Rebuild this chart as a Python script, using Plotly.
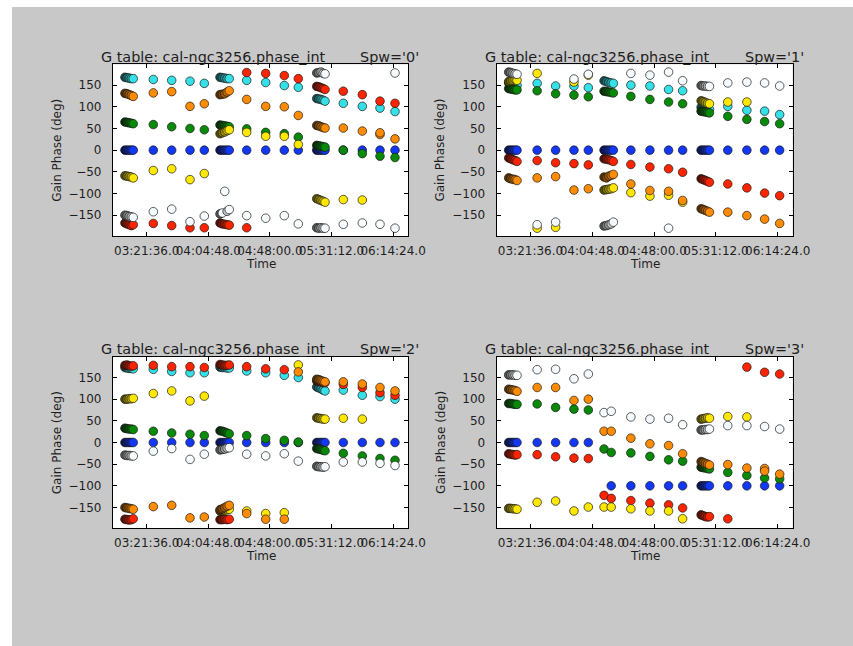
import plotly.graph_objects as go

# ---------------- data ----------------
DAY = "2012-01-01"
# integration times (A cluster, B-E, F cluster, G-J, K cluster, L-O)
TIMES = ["03:06:20", "03:07:50", "03:09:20", "03:10:50", "03:12:10",
         "03:26:14", "03:39:08", "03:51:58", "04:02:00",
         "04:13:00", "04:14:40", "04:16:20", "04:18:00", "04:19:30",
         "04:31:44", "04:45:03", "04:58:06", "05:07:55",
         "05:20:50", "05:22:20", "05:23:50", "05:25:20", "05:26:40",
         "05:39:29", "05:52:49", "06:05:13", "06:15:44"]

XTICK_TIMES = ["03:21:36", "04:04:48", "04:48:00", "05:31:12", "06:14:24"]
XTICK_LABELS = ["03:21:36.0", "04:04:48.0", "04:48:00.0", "05:31:12.0", "06:14:24.0"]
YTICKS = [-150, -100, -50, 0, 50, 100, 150]
X_RANGE = ["02:57:58", "06:24:51"]
Y_RANGE = [-198, 198]

SPW_LABELS = ["0", "1", "2", "3"]
TABLE_NAME = "cal-ngc3256.phase_int"

# spw 0
S0_BLUE = [0, 0, 0, 0, 0, 0, 0, 0, 0, 0, 0, 0, 0, 0, 0, 0, 0, 0, 0, 0, 0, 0, 0, 0, 0, 0, 0]
S0_CYAN = [168, 167, 166, 165, 165, 163, 161, 159, 154, 168, 167, 166, 165, 165, 161, 156, 149, 145,
           119, 118, 117, 115, 113, 108, 101, 97, 89]
S0_GREEN = [65, 64, 63, 62, 61, 59, 54, 50, 47, 58, 57, 56, 55, 54, 49, 41, 38, 30,
            11, 10, 9, 8, 7, 0, -8, -14, -17]
S0_RED = [-168, -170, -172, -174, -172, -169, -174, -179, -179, -168, -170, -171, -172, -173,
          (179, -179), 177, 172, 165, 147, 146, 144, 142, 140, 136, 128, 113, 108]
S0_YELLOW = [-59, -60, -61, -62, -64, -47, -43, -68, -54, 38, 40, 42, 45, 47, 41, 32, 32, 13,
             -112, -114, -116, -118, -120, -114, -115, None, None]
S0_ORANGE = [131, 130, 128, 126, 124, 132, 135, 101, 107, 128, 129, 130, 134, 137, 117, 101, 100, 80,
             57, 56, 54, 52, 51, 51, 44, (36, 40), 26]
S0_WHITE = [-150, -151, -153, -154, -155, -142, -136, -165, -152, -147, -145, -95, -141, -137,
            -151, -157, -151, -170, (-179, 178), (-180, 179), (-179, 180), (-180, 177), (-180, 176),
            -171, -168, -171, (-180, 178)]

# spw 1
S1_BLUE = [0, 0, 0, 0, 0, 0, 0, 0, 0, 0, 0, 0, 0, 0, 0, 0, 0, 0, 0, 0, 0, 0, 0, 0, 0, 0, 0]
S1_CYAN = [155, 153, 151, 150, 149, 154, 148, 148, 144, 160, 158, 156, 155, 154, 150, 148, 140, 137,
           99, 97, 96, 95, 94, 101, 92, 90, 82]
S1_GREEN = [142, 141, 140, 139, 139, 137, 130, 127, 123, 136, 135, 134, 133, 132, 124, 117, 111, 107,
            90, 89, 88, 87, 86, 78, 71, 66, 61]
S1_RED = [-18, -20, -22, -24, -26, -24, -29, -31, -34, -20, -21, -22, -24, -26, -33, -39, -43, -51,
          -66, -68, -70, -72, -74, -78, -87, -99, -105]
S1_YELLOW = [158, 160, 161, 163, 161, (177, -180), -178, 157, 173, -92, -91, -90, -89, -87,
             -98, -106, -104, -120, 114, 112, 110, 108, 107, 111, 111, None, None]
S1_ORANGE = [-64, -66, -67, -68, -70, -64, -61, -92, -89, -62, -64, -60, -58, -56, -78, -93, -95, -116,
             -135, -137, -139, -141, -143, -143, -151, -159, -169]
S1_WHITE = [180, 179, 177, 176, 175, -172, -166, 164, 175, -175, -174, -172, -170, -166,
            177, 173, (180, -180), 160, 149, 148, 148, 147, 147, 155, 157, 155, 148]

# spw 2
S2_BLUE = [0, 0, 0, 0, 0, 0, 0, 0, 0, 0, 0, 0, 0, 0, 0, 0, 0, 0, 0, 0, 0, 0, 0, 0, 0, 0, 0]
S2_CYAN = [173, 172, 171, 171, 170, 169, 164, 161, 161, 174, 173, 173, 172, 172, 165, 161, 155, 150,
           128, 126, 124, 121, 119, 121, 109, 106, 100]
S2_GREEN = [33, 32, 31, 31, 30, 26, 22, 19, 16, 27, 26, 24, 22, 20, 16, 9, 5, 1,
            -14, -15, -16, -18, -19, -25, -31, -37, -41]
S2_RED = [(178, -177), (179, -178), (177, -179), (176, -178), (177, -176), 178, 175, 175, 173,
          (180, -178), (179, -178), (178, -177), (178, -178), (179, -177), 175, 170, 168, None,
          142, 141, 140, 139, 138, 134, 127, 115, 109]
S2_YELLOW = [100, 100, 101, 101, 102, 113, 119, 96, 107, -158, -157, -156, -155, -154,
             -158, -164, -162, 179, 57, 56, 55, 54, 54, 56, 54, None, None]
S2_ORANGE = [-150, -151, -152, -153, -154, -148, -145, -174, -172, -155, -153, -150, -147, -145,
             -164, -177, -177, 163, 146, 145, 143, 141, 140, 140, 135, 127, 119]
S2_WHITE = [-29, -30, -30, -31, -31, -20, -14, -39, -27, -17, -16, -15, -13, -12, -27, -31, -26, -43,
            -55, -56, -56, -57, -56, -45, -45, -48, -53]

# spw 3 (cyan antenna flagged)
S3_BLUE = [0, 0, 0, 0, 0, 0, 0, 0, 0, None, None, None, -100, None, -100, -100, -100, -100,
           -100, -100, -100, -100, -100, -100, -100, -100, -100]
S3_CYAN = []
S3_GREEN = [90, 90, 89, 88, 88, 89, 81, 77, 75, -15, None, None, -23, None, -24, -32, -40, -43,
            -57, -58, -59, -60, -61, -69, -76, -82, -84]
S3_RED = [-26, -27, -28, -29, -28, -28, -33, -36, -37, -122, None, None, -129, None, -134, -140, -144, -151,
          -167, -169, -171, -172, -171, -176, 174, 162, 158]
S3_YELLOW = [-152, -152, -153, -153, -154, -138, -135, -158, -149, -149, None, None, -149, None,
             -153, -158, -158, -176, 54, 55, 56, 57, 56, 60, 59, None, None]
S3_ORANGE = [123, 122, 121, 120, 118, 127, 127, 97, 100, 26, None, None, 26, None, 10, -3, -7, -26,
             -44, -46, -48, -50, -52, -51, -59, (-60, -66), -73]
S3_WHITE = [156, 156, 156, 155, 155, 168, 169, 147, 158, 69, None, None, 72, None, 59, 54, 56, 41,
            29, 29, 30, 30, 31, 39, 39, 37, 31]

PANELS = [
    [S0_BLUE, S0_CYAN, S0_GREEN, S0_RED, S0_YELLOW, S0_ORANGE, S0_WHITE],
    [S1_BLUE, S1_CYAN, S1_GREEN, S1_RED, S1_YELLOW, S1_ORANGE, S1_WHITE],
    [S2_BLUE, S2_CYAN, S2_GREEN, S2_RED, S2_YELLOW, S2_ORANGE, S2_WHITE],
    [S3_BLUE, S3_CYAN, S3_GREEN, S3_RED, S3_YELLOW, S3_ORANGE, S3_WHITE],
]

# ---------------- styling ----------------
ANTENNA_COLORS = [(18, 56, 245), (53, 224, 230), (7, 138, 7), (255, 36, 0),
                  (255, 232, 0), (255, 140, 0), (246, 251, 255)]
# brightness of a marker that is overlapped by the next integration of a dense scan
SHADE = [0.35, 0.5, 0.62, 0.78, 1.0,
         1, 1, 1, 1,
         0.35, 0.5, 0.62, 0.78, 1.0,
         1, 1, 1, 1,
         0.35, 0.5, 0.62, 0.78, 1.0,
         1, 1, 1, 1]


def as_tuple(v):
    if v is None:
        return ()
    return v if isinstance(v, tuple) else (v,)


def shade(rgb, f):
    return "rgb(%d,%d,%d)" % tuple(int(round(c * f)) for c in rgb)


W, H = 853, 646
FONT = "DejaVu Sans"
TXT = "#1e1e1e"
# panel frames: (left, right, top, bottom) in pixels
FRAMES = [(113, 408, 64.3, 236), (496.7, 792.7, 64.3, 236),
          (113, 408, 356.7, 528.3), (496.7, 792.7, 356.7, 528.3)]

fig = go.Figure()
layout_axes = {}
annotations = []

for p, (series_list, frame) in enumerate(zip(PANELS, FRAMES)):
    l, r, t, b = frame
    xa = "x" if p == 0 else f"x{p+1}"
    ya = "y" if p == 0 else f"y{p+1}"
    for vals, rgb in zip(series_list, ANTENNA_COLORS):
        xs, ys, cs = [], [], []
        for i, (tm, v) in enumerate(zip(TIMES, vals)):
            nxt = as_tuple(vals[i + 1]) if i + 1 < len(vals) else ()
            for vv in as_tuple(v):
                covered = any(abs(vv - n) < 20 for n in nxt)
                xs.append(f"{DAY} {tm}")
                ys.append(vv)
                cs.append(shade(rgb, SHADE[i] if covered else 1.0))
        if not xs:
            continue
        fig.add_trace(go.Scatter(
            x=xs, y=ys, mode="markers", xaxis=xa, yaxis=ya, showlegend=False,
            marker=dict(size=8.6, color=cs, line=dict(color="#1a1a1a", width=0.7)),
        ))
    common = dict(showline=True, linecolor="black", linewidth=1.2, mirror="ticks",
                  ticks="inside", ticklen=4, tickcolor="black", tickwidth=1,
                  showgrid=False, zeroline=False, automargin=False,
                  tickfont=dict(family=FONT, size=12, color=TXT))
    layout_axes["xaxis" if p == 0 else f"xaxis{p+1}"] = dict(
        common, type="date", domain=[l / W, r / W], anchor=ya,
        range=[f"{DAY} {X_RANGE[0]}", f"{DAY} {X_RANGE[1]}"],
        tickvals=[f"{DAY} {tt}" for tt in XTICK_TIMES], ticktext=XTICK_LABELS,
        tickangle=0, ticklabelstandoff=3)
    layout_axes["yaxis" if p == 0 else f"yaxis{p+1}"] = dict(
        common, domain=[1 - b / H, 1 - t / H], anchor=xa, range=Y_RANGE,
        tickvals=YTICKS, ticklabelstandoff=8)

    cx = (l + r) / 2
    annotations.append(dict(text=f"G table: {TABLE_NAME}", x=(l - 13.7) / W, y=1 - (t - 7.5) / H,
                            xref="paper", yref="paper", xanchor="left", yanchor="middle",
                            showarrow=False, font=dict(family=FONT, size=14.4, color=TXT)))
    annotations.append(dict(text=f"Spw='{SPW_LABELS[p]}'", x=(r + 13) / W, y=1 - (t - 7.5) / H,
                            xref="paper", yref="paper", xanchor="right", yanchor="middle",
                            showarrow=False, font=dict(family=FONT, size=14.4, color=TXT)))
    annotations.append(dict(text="Time", x=cx / W, y=1 - (b + 28) / H,
                            xref="paper", yref="paper", xanchor="center", yanchor="middle",
                            showarrow=False, font=dict(family=FONT, size=12, color=TXT)))
    annotations.append(dict(text="Gain Phase (deg)", x=(l - 56.3) / W, y=1 - ((t + b) / 2) / H,
                            xref="paper", yref="paper", xanchor="center", yanchor="middle",
                            textangle=-90, showarrow=False,
                            font=dict(family=FONT, size=12, color=TXT)))

shapes = [
    dict(type="rect", xref="paper", yref="paper", x0=0, x1=1, y0=1 - 7 / H, y1=1,
         fillcolor="white", line=dict(width=0), layer="below"),
    dict(type="rect", xref="paper", yref="paper", x0=0, x1=12 / W, y0=0, y1=1,
         fillcolor="white", line=dict(width=0), layer="below"),
]

fig.update_layout(
    width=W, height=H, autosize=False,
    margin=dict(l=0, r=0, t=0, b=0, pad=0, autoexpand=False),
    paper_bgcolor="#c8c8c8", plot_bgcolor="white",
    annotations=annotations, shapes=shapes,
    **layout_axes,
)

POST = ("var de=document.documentElement;de.style.margin='0';de.style.padding='0';"
        "de.style.overflow='hidden';"
        "document.body.style.margin='0';document.body.style.padding='0';"
        "document.body.style.overflow='hidden';")

fig.write_html("out.html", config={"displayModeBar": False, "responsive": False},
               post_script=POST)
